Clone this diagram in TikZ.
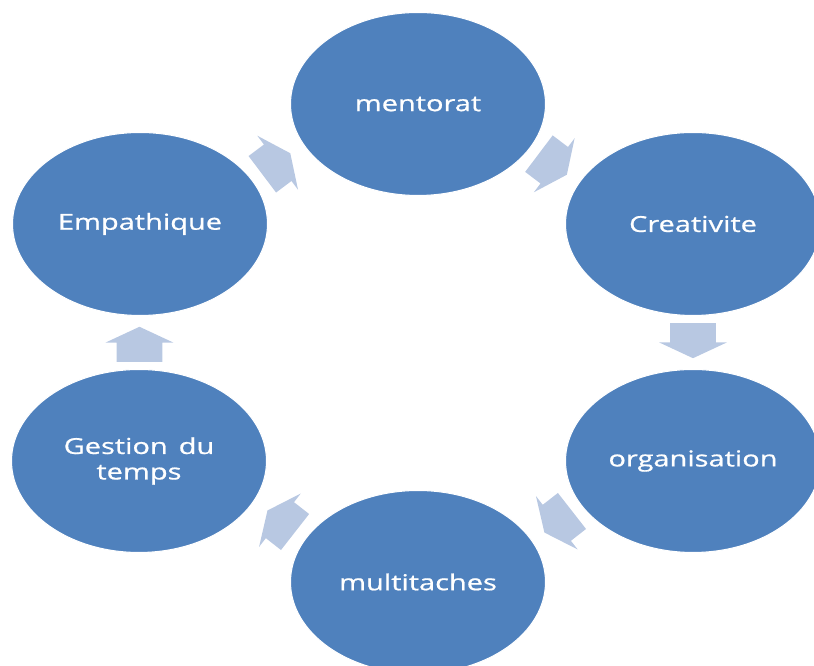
\documentclass[tikz,border=0pt]{standalone}
\usepackage{fontspec}
\setmainfont{Open Sans}[FakeStretch=1.32, FakeBold=0.8]
\usepackage{xcolor}
\usepackage{tikz}
\usetikzlibrary{shapes.geometric,shapes.arrows,calc}

\definecolor{cycblue}{HTML}{4F81BD}
\definecolor{cycarrow}{HTML}{B8C8E2}

\begin{document}
\begin{tikzpicture}[
  skill/.style={ellipse, fill=cycblue, draw=white, line width=0.6pt, text=white, align=center,
    minimum width=51mm, minimum height=36.6mm, inner sep=0pt,
    font=\fontsize{12.5}{14.5}\selectfont},
  turn/.style={single arrow, fill=cycarrow, draw=none, minimum height=7mm,
    inner xsep=0pt, inner ysep=4.5mm, single arrow head extend=2.2mm,
    single arrow tip angle=130}
]
  \useasboundingbox (0,0) rectangle (16.28,13.32);

  % the six skills, clockwise from the top
  \node[skill] (ment) at (8.36,11.24) {mentorat};
  \node[skill] (crea) at (13.86,8.84) {Creativite};
  \node[skill] (orga) at (13.86,4.10) {organisation};
  \node[skill] (mult) at (8.36,1.68) {multitaches};
  \node[skill] (gest) at (2.78,4.10) {Gestion\hspace{0.5em}du\\temps};
  \node[skill] (emp) at (2.80,8.84) {Empathique};

  % block arrows between neighbours
  \node[turn, rotate=37] (a1) at ($(emp)!0.475!(ment)$) {};
  \node[turn, rotate=-37] (a2) at ($(ment)!0.475!(crea)$) {};
  \node[turn, rotate=-90] (a3) at ($(crea)!0.47!(orga)$) {};
  \node[turn, rotate=-142] (a4) at ($(orga)!0.475!(mult)$) {};
  \node[turn, rotate=142] (a5) at ($(mult)!0.475!(gest)$) {};
  \node[turn, rotate=90] (a6) at ($(gest)!0.47!(emp)$) {};
\end{tikzpicture}
\end{document}
